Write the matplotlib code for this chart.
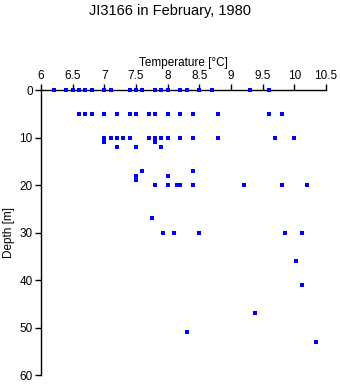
import matplotlib
matplotlib.use("Agg")
import matplotlib.pyplot as plt

plt.rcParams["font.family"] = ["Liberation Sans", "DejaVu Sans"]

# Station JI3166 CTD profile, February 1980
temperature = [
    6.2, 6.4, 6.5, 6.6, 6.7, 6.8, 7.0, 7.1, 7.4, 7.5, 7.6, 7.8, 7.9, 8.0, 8.2, 8.3, 8.5, 8.7, 9.3, 9.6,
    6.6, 6.7, 6.8, 7.0, 7.2, 7.4, 7.5, 7.7, 7.8, 8.0, 8.2, 8.4, 8.8, 9.6, 9.8,
    7.0, 7.1, 7.2, 7.3, 7.4, 7.7, 7.8, 7.9, 8.0, 8.2, 8.4, 8.8, 9.7, 10.0,
    7.0, 7.8,
    7.2, 7.5, 7.9,
    7.6, 8.4,
    7.5, 8.0,
    7.5,
    7.8, 8.0, 8.15, 8.2, 8.4, 9.2, 9.8, 10.2,
    7.75,
    7.92, 8.1, 8.5, 9.85, 10.12,
    10.03, 10.12, 9.38, 8.3, 10.35,
]
depth = (
    [0] * 20
    + [5] * 15
    + [10] * 14
    + [11] * 2
    + [12] * 3
    + [17] * 2
    + [18] * 2
    + [19]
    + [20] * 8
    + [27]
    + [30] * 5
    + [36, 41, 47, 51, 53]
)

xticks = [6, 6.5, 7, 7.5, 8, 8.5, 9, 9.5, 10, 10.5]
xticklabels = ["6", "6.5", "7", "7.5", "8", "8.5", "9", "9.5", "10", "10.5"]
yticks = [0, 10, 20, 30, 40, 50, 60]

fig = plt.figure(figsize=(3.4, 3.84), dpi=100)
ax = fig.add_axes([0.1206, 0.0234, 0.8382, 0.7422])

# points drawn above the spines so the surface row stays visible
ax.plot(temperature, depth, linestyle="none", marker="s", markersize=2.6,
        color="#0000ff", markeredgewidth=0, clip_on=False, zorder=5)

ax.set_xlim(6, 10.5)
ax.set_ylim(60, 0)
ax.xaxis.tick_top()
ax.xaxis.set_label_position("top")
ax.set_xticks(xticks)
ax.set_xticklabels(xticklabels)
ax.set_yticks(yticks)

for side in ["right", "bottom"]:
    ax.spines[side].set_visible(False)
for side in ["top", "left"]:
    ax.spines[side].set_linewidth(1.0)

ax.tick_params(axis="both", direction="out", length=4, width=1, labelsize=8.5, pad=2)
ax.set_xlabel("Temperature [°C]", fontsize=8.5, labelpad=3)
ax.set_ylabel("Depth [m]", fontsize=8.5, labelpad=3)

fig.suptitle("JI3166 in February, 1980", fontsize=10.5, y=0.99, va="top")

fig.savefig("out.png", dpi=100)
